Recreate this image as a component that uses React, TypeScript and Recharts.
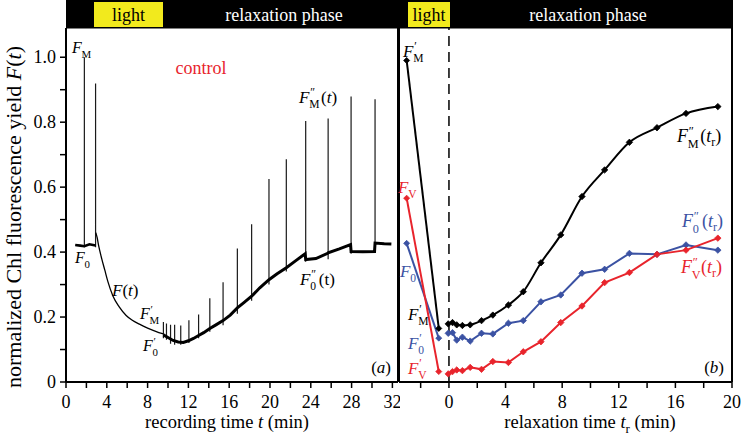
import React from "react";
import { LineChart, Line, XAxis, YAxis, ReferenceLine } from "recharts";

const FONT = "'Liberation Serif', 'Times New Roman', serif";

// ---------- Panel (a): recording time t (min) ----------
const preLightTime = [0.9, 1.4, 1.8, 2.3, 2.9];
const preLightYield = [0.422, 0.42, 0.418, 0.424, 0.42];

const decayTime = [2.92, 3.05, 3.2, 3.5, 3.8, 4.1, 4.6, 5.2, 5.9, 6.5, 7.2, 8.0, 8.6, 9.1, 9.55];
const decayYield = [0.46, 0.445, 0.42, 0.38, 0.345, 0.31, 0.265, 0.232, 0.205, 0.19, 0.178, 0.166, 0.158, 0.152, 0.148];

const recoveryTime = [9.55, 10.0, 10.5, 11.0, 11.5, 12.0, 12.5, 13.0, 13.5, 14.1, 14.7, 15.4, 16.1, 16.8, 17.5, 18.2, 19.0, 19.9, 20.7, 21.6, 22.5, 23.45, 23.5, 24.5, 25.65, 25.7, 26.8, 27.9, 27.95, 29.1, 30.25, 30.3, 31.2, 31.9];
const recoveryYield = [0.145, 0.137, 0.128, 0.123, 0.122, 0.127, 0.134, 0.143, 0.152, 0.165, 0.176, 0.189, 0.206, 0.228, 0.246, 0.264, 0.29, 0.315, 0.333, 0.352, 0.373, 0.395, 0.377, 0.38, 0.396, 0.398, 0.41, 0.423, 0.402, 0.401, 0.402, 0.428, 0.426, 0.425];

const spikeTime = [1.8, 2.9, 9.55, 9.85, 10.25, 10.65, 11.25, 12.05, 13.0, 14.1, 15.4, 16.8, 18.2, 19.9, 21.6, 23.5, 25.7, 27.95, 30.3];
const spikePeak = [1.0, 0.919, 0.185, 0.18, 0.176, 0.176, 0.174, 0.19, 0.208, 0.258, 0.307, 0.411, 0.486, 0.625, 0.686, 0.804, 0.811, 0.879, 0.871];
const spikeFoot = [0.415, 0.415, 0.135, 0.13, 0.118, 0.115, 0.115, 0.12, 0.135, 0.155, 0.175, 0.21, 0.25, 0.3, 0.34, 0.37, 0.378, 0.395, 0.398];

const recordingTicks = [0, 2, 4, 6, 8, 10, 12, 14, 16, 18, 20, 22, 24, 26, 28, 30, 32];
const yieldTicks = [0, 0.1, 0.2, 0.3, 0.4, 0.5, 0.6, 0.7, 0.8, 0.9, 1.0];

// ---------- Panel (b): relaxation time t_r (min) ----------
const lightPhaseTime = [-2.99, -0.72];
const fmLight = [0.99, 0.165];
const f0Light = [0.427, 0.135];
const fvLight = [0.566, 0.032];

const relaxTime = [-0.05, 0.25, 0.55, 0.95, 1.5, 2.3, 3.1, 4.2, 5.25, 6.5, 7.9, 9.4, 11.0, 12.75, 14.7, 16.75, 19.0];
const fmRelax = [0.179, 0.183, 0.176, 0.174, 0.176, 0.189, 0.206, 0.237, 0.278, 0.367, 0.453, 0.571, 0.653, 0.738, 0.783, 0.827, 0.848];
const f0Relax = [0.15, 0.152, 0.129, 0.138, 0.126, 0.15, 0.148, 0.181, 0.189, 0.247, 0.268, 0.335, 0.347, 0.396, 0.393, 0.422, 0.406];
const fvRelax = [0.025, 0.032, 0.037, 0.035, 0.045, 0.039, 0.063, 0.06, 0.093, 0.124, 0.183, 0.234, 0.306, 0.337, 0.393, 0.406, 0.443];

const relaxTicks = [-2, 0, 2, 4, 6, 8, 10, 12, 14, 16, 18, 20];

const BLACK = "#000000";
const BLUE = "#3b52a3";
const RED = "#e8242c";
const YELLOW = "#f2ea1d";

const LEFT_X_MAX = 32.55;
const RIGHT_X_MIN = -3.53;
const RIGHT_X_MAX = 20;
const Y_MAX = 1.09;

const zip = (ts: number[], vs: number[]) => ts.map((t, i) => ({ t, v: vs[i] }));

const spikeData = (() => {
  const out: { t: number; v: number | null }[] = [];
  spikeTime.forEach((t, i) => {
    out.push({ t, v: spikeFoot[i] });
    out.push({ t, v: spikePeak[i] });
    out.push({ t, v: null });
  });
  return out;
})();

const axisLineStyle = { stroke: "#000", strokeWidth: 2 };
const tickLineStyle = { stroke: "#000", strokeWidth: 1.5 };

const recFmt = (v: number) => (v % 4 === 0 ? String(v) : "");
const relFmt = (v: number) => (v >= 0 && v % 4 === 0 ? String(v) : "");
const yFmt = (v: number) => {
  const k = Math.round(v * 10);
  if (k % 2 !== 0) return "";
  return k === 0 ? "0" : v.toFixed(1);
};

const makeXTick = (fmt: (v: number) => string) => (props: any) => {
  const { x, y, payload, index } = props;
  const s = fmt(payload.value);
  return (
    <text key={`xt${index}`} x={x} y={y} dy="0.72em" textAnchor="middle" fontSize={18} fontFamily={FONT} fill="#000">
      {s}
    </text>
  );
};

const makeYTick = (fmt: (v: number) => string) => (props: any) => {
  const { x, y, payload, index } = props;
  const s = fmt(payload.value);
  return (
    <text key={`yt${index}`} x={x} y={y} dy="0.34em" textAnchor="end" fontSize={18} fontFamily={FONT} fill="#000">
      {s}
    </text>
  );
};

const diamond = (color: string, r: number) => (props: any) => {
  const { cx, cy, index } = props;
  if (cx == null || cy == null) return <g key={`d${index}`} />;
  return (
    <path
      key={`d${index}`}
      d={`M${cx} ${cy - r}L${cx + r} ${cy}L${cx} ${cy + r}L${cx - r} ${cy}Z`}
      fill={color}
      stroke={color}
      strokeWidth={0.8}
    />
  );
};

type SymProps = {
  x: number;
  y: number;
  sup?: string;
  sub?: string;
  tail?: React.ReactNode;
  color?: string;
  size?: number;
};

function Sym({ x, y, sup, sub, tail, color = "#000", size = 17 }: SymProps) {
  const fw = size * 0.6;
  const ss = size * 0.68;
  const subW = sub ? (sub === "M" ? ss * 0.9 : ss * 0.62) : 0;
  const supW = sup ? ss * 0.55 : 0;
  const w = Math.max(subW, supW);
  return (
    <g fill={color} fontFamily={FONT}>
      <text x={x} y={y} fontSize={size} fontStyle="italic">
        F
      </text>
      {sup && (
        <text x={x + fw + 1} y={y - size * 0.4} fontSize={ss}>
          {sup}
        </text>
      )}
      {sub && (
        <text x={x + fw} y={y + size * 0.32} fontSize={ss}>
          {sub}
        </text>
      )}
      {tail && (
        <text x={x + fw + w + 1.5} y={y} fontSize={size}>
          {tail}
        </text>
      )}
    </g>
  );
}

const tItalic = (
  <>
    <tspan>(</tspan>
    <tspan fontStyle="italic">t</tspan>
    <tspan>)</tspan>
  </>
);
const tUpright = <tspan>(t)</tspan>;
const tR = (
  <>
    <tspan>(</tspan>
    <tspan fontStyle="italic">t</tspan>
    <tspan dy={4} fontSize={12}>
      r
    </tspan>
    <tspan dy={-4}>)</tspan>
  </>
);

export default function App() {
  return (
    <div style={{ position: "absolute", left: 0, top: 0, width: 742, height: 442, background: "#fff", fontFamily: FONT }}>
      <div style={{ position: "absolute", left: 0, top: 0 }}>
        <LineChart width={400} height={442} margin={{ top: 28, right: 2, bottom: 0, left: 0 }}>
          <XAxis
            type="number"
            dataKey="t"
            domain={[0, LEFT_X_MAX]}
            ticks={recordingTicks}
            interval={0}
            tickSize={6}
            tickMargin={7}
            height={60}
            axisLine={axisLineStyle}
            tickLine={tickLineStyle}
            tick={makeXTick(recFmt)}
            allowDataOverflow
          />
          <YAxis
            type="number"
            domain={[0, Y_MAX]}
            ticks={yieldTicks}
            interval={0}
            tickSize={6}
            tickMargin={4}
            width={66}
            axisLine={axisLineStyle}
            tickLine={tickLineStyle}
            tick={makeYTick(yFmt)}
            allowDataOverflow
          />
          <ReferenceLine x={LEFT_X_MAX} stroke="#000" strokeWidth={2} />
          <Line data={spikeData} dataKey="v" type="linear" stroke="#1a1a1a" strokeWidth={1.2} dot={false} connectNulls={false} isAnimationActive={false} />
          <Line data={zip(preLightTime, preLightYield)} dataKey="v" type="linear" stroke="#000" strokeWidth={2.6} dot={false} isAnimationActive={false} />
          <Line data={zip(decayTime, decayYield)} dataKey="v" type="monotone" stroke="#000" strokeWidth={1.3} dot={false} isAnimationActive={false} />
          <Line data={zip(recoveryTime, recoveryYield)} dataKey="v" type="linear" stroke="#000" strokeWidth={3} dot={false} isAnimationActive={false} />
        </LineChart>
      </div>

      <div style={{ position: "absolute", left: 398, top: 0 }}>
        <LineChart width={344} height={442} margin={{ top: 28, right: 10, bottom: 0, left: 0 }}>
          <XAxis
            type="number"
            dataKey="t"
            domain={[RIGHT_X_MIN, RIGHT_X_MAX]}
            ticks={relaxTicks}
            interval={0}
            tickSize={6}
            tickMargin={7}
            height={60}
            axisLine={axisLineStyle}
            tickLine={tickLineStyle}
            tick={makeXTick(relFmt)}
            allowDataOverflow
          />
          <YAxis type="number" domain={[0, Y_MAX]} width={1} tick={false} tickLine={false} axisLine={axisLineStyle} allowDataOverflow />
          <ReferenceLine x={RIGHT_X_MAX} stroke="#000" strokeWidth={2} />
          <ReferenceLine x={0} stroke="#000" strokeWidth={1.5} strokeDasharray="10 6" />
          <Line data={zip(lightPhaseTime, fmLight)} dataKey="v" type="linear" stroke={BLACK} strokeWidth={2} dot={diamond(BLACK, 3)} isAnimationActive={false} />
          <Line data={zip(lightPhaseTime, f0Light)} dataKey="v" type="linear" stroke={BLUE} strokeWidth={2} dot={diamond(BLUE, 3)} isAnimationActive={false} />
          <Line data={zip(lightPhaseTime, fvLight)} dataKey="v" type="linear" stroke={RED} strokeWidth={2} dot={diamond(RED, 3)} isAnimationActive={false} />
          <Line data={zip(relaxTime, f0Relax)} dataKey="v" type="linear" stroke={BLUE} strokeWidth={2} dot={diamond(BLUE, 3.2)} isAnimationActive={false} />
          <Line data={zip(relaxTime, fvRelax)} dataKey="v" type="linear" stroke={RED} strokeWidth={2} dot={diamond(RED, 3.2)} isAnimationActive={false} />
          <Line data={zip(relaxTime, fmRelax)} dataKey="v" type="monotone" stroke={BLACK} strokeWidth={2} dot={diamond(BLACK, 3.2)} isAnimationActive={false} />
        </LineChart>
      </div>

      <svg style={{ position: "absolute", left: 0, top: 0, pointerEvents: "none" }} width={742} height={442}>
        {/* header bar */}
        <rect x={66} y={0} width={667} height={28.5} fill="#000" />
        <rect x={94} y={2} width={69} height={25} fill={YELLOW} />
        <rect x={408} y={2} width={42} height={25} fill={YELLOW} />
        <text x={128.5} y={21} fontSize={18} fontFamily={FONT} fill="#000" textAnchor="middle">light</text>
        <text x={429} y={21} fontSize={18} fontFamily={FONT} fill="#000" textAnchor="middle">light</text>
        <text x={284} y={21} fontSize={18} fontFamily={FONT} fill="#fff" textAnchor="middle">relaxation phase</text>
        <text x={588} y={21} fontSize={18} fontFamily={FONT} fill="#fff" textAnchor="middle">relaxation phase</text>

        {/* panel (a) annotations */}
        <Sym x={72} y={53} sub="M" size={16} />
        <text x={201} y={74} fontSize={18} fontFamily={FONT} fill={RED} textAnchor="middle">control</text>
        <Sym x={299} y={103} sup="″" sub="M" tail={tItalic} size={17} />
        <Sym x={75} y={263} sub="0" size={16} />
        <text x={112} y={296} fontSize={17} fontFamily={FONT} fill="#000">
          <tspan fontStyle="italic">F</tspan>
          <tspan>(</tspan>
          <tspan fontStyle="italic">t</tspan>
          <tspan>)</tspan>
        </text>
        <Sym x={140} y={319} sup="′" sub="M" size={16} />
        <Sym x={143} y={351} sup="′" sub="0" size={16} />
        <Sym x={300} y={285} sup="″" sub="0" tail={tUpright} size={17} />
        <text x={391} y={373} fontSize={17} fontFamily={FONT} fill="#000" textAnchor="end">
          (<tspan fontStyle="italic">a</tspan>)
        </text>

        {/* panel (b) annotations */}
        <Sym x={403} y={57} sup="′" sub="M" size={17} />
        <Sym x={398} y={193} sub="V" size={17} color={RED} />
        <Sym x={400} y={277} sub="0" size={17} color={BLUE} />
        <Sym x={408} y={320} sup="′" sub="M" size={17} />
        <Sym x={408} y={349} sup="′" sub="0" size={17} color={BLUE} />
        <Sym x={408} y={374} sup="′" sub="V" size={17} color={RED} />
        <Sym x={677} y={142} sup="″" sub="M" tail={tR} size={18} />
        <Sym x={682} y={227} sup="″" sub="0" tail={tR} size={18} color={BLUE} />
        <Sym x={681} y={273} sup="″" sub="V" tail={tR} size={18} color={RED} />
        <text x={724} y={373} fontSize={17} fontFamily={FONT} fill="#000" textAnchor="end">
          (<tspan fontStyle="italic">b</tspan>)
        </text>

        {/* axis titles */}
        <text transform="translate(21,217) rotate(-90)" fontSize={22} fontFamily={FONT} fill="#000" textAnchor="middle">
          normalized Chl fluorescence yield <tspan fontStyle="italic">F</tspan>(<tspan fontStyle="italic">t</tspan>)
        </text>
        <text x={227} y={428} fontSize={18.5} fontFamily={FONT} fill="#000" textAnchor="middle">
          recording time <tspan fontStyle="italic">t</tspan> (min)
        </text>
        <text x={590} y={428} fontSize={18.5} fontFamily={FONT} fill="#000" textAnchor="middle">
          relaxation time <tspan fontStyle="italic">t</tspan>
          <tspan dy={5} fontSize={13}>r</tspan>
          <tspan dy={-5}> (min)</tspan>
        </text>
      </svg>
    </div>
  );
}
